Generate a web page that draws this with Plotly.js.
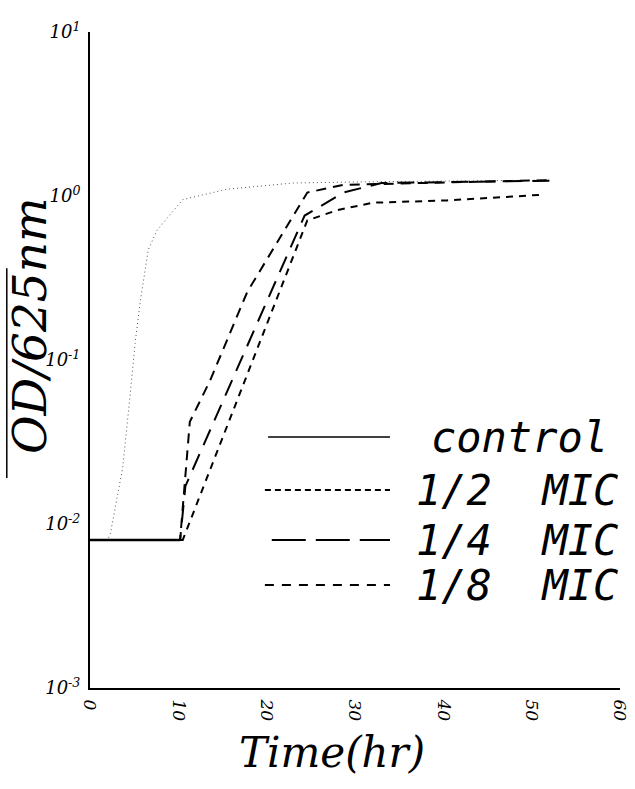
<!DOCTYPE html>
<html>
<head>
<meta charset="utf-8">
<script src="https://cdn.plot.ly/plotly-3.0.1.min.js"></script>
<style>html,body{margin:0;padding:0;background:#fff;}#chart{width:635px;height:789px;}</style>
</head>
<body>
<div id="chart"></div>
<script>
// ---- data ----
const controlTime = [0, 2.0, 2.3, 3.7, 4.5, 5.1, 5.7, 6.6, 7.6, 10.5, 15.5, 23, 31, 52];
const controlOD   = [0.008, 0.008, 0.0087, 0.022, 0.058, 0.126, 0.23, 0.47, 0.62, 0.95, 1.1, 1.2, 1.22, 1.25];

const halfTime = [0, 10.5, 24.6, 28, 32, 40.4, 51.5];
const halfOD   = [0.008, 0.008, 0.71, 0.82, 0.91, 0.94, 1.02];

const quarterTime = [0, 10.2, 10.8, 24.3, 28.7, 33, 52];
const quarterOD   = [0.008, 0.008, 0.017, 0.76, 1.05, 1.2, 1.24];

const eighthTime = [0, 10.2, 11.3, 13.6, 17.8, 24.6, 28.7, 52];
const eighthOD   = [0.008, 0.008, 0.042, 0.075, 0.26, 1.05, 1.17, 1.25];

const seriesNames = ["control", "1/2  MIC", "1/4  MIC", "1/8  MIC"];
const yTickVals = [0.001, 0.01, 0.1, 1, 10];
const yTickText = ["10<sup>-3</sup>", "10<sup>-2</sup>", "10<sup>-1</sup>", "10<sup>0</sup>", "10<sup>1</sup>"];
const xTickVals = [0, 10, 20, 30, 40, 50, 60];
const xTickText = ["0", "10", "20", "30", "40", "50", "60"];

const serif = "DejaVu Serif";
const legendFont = "DejaVu Sans Mono";

const traces = [
  // shared lag phase of all cultures (overlapping lines look solid)
  {x: [controlTime[0], eighthTime[1]], y: [controlOD[0], eighthOD[1]], mode: "lines",
   line: {color: "#000", width: 2.5}, hoverinfo: "skip"},
  {x: controlTime, y: controlOD, name: seriesNames[0], mode: "lines",
   line: {color: "#555", width: 1, dash: "1px,3px"}},
  {x: halfTime, y: halfOD, name: seriesNames[1], mode: "lines",
   line: {color: "#000", width: 2, dash: "7px,6px"}},
  {x: quarterTime, y: quarterOD, name: seriesNames[2], mode: "lines",
   line: {color: "#000", width: 2, dash: "17px,10px"}},
  {x: eighthTime, y: eighthOD, name: seriesNames[3], mode: "lines",
   line: {color: "#000", width: 2, dash: "10px,7px"}}
];

// custom legend (long line samples like the original)
const legendRows = [
  {y: 0.3826, x0: 0.336, dash: "solid", width: 1.5},
  {y: 0.3018, x0: 0.330, dash: "6px,4px", width: 2},
  {y: 0.2256, x0: 0.343, dash: "34px,10px", width: 2},
  {y: 0.157, x0: 0.330, dash: "9px,8px", width: 2}
];
const shapes = legendRows.map(r => ({
  type: "line", xref: "paper", yref: "paper", x0: r.x0, x1: 0.566, y0: r.y, y1: r.y,
  line: {color: "#000", width: r.width, dash: r.dash}
}));
// overline of the y title
shapes.push({type: "line", xref: "paper", yref: "paper", x0: -0.157, x1: -0.157, y0: 0.32, y1: 0.64,
  line: {color: "#000", width: 1.5}});

const annotations = legendRows.map((r, i) => ({
  xref: "paper", yref: "paper", x: i === 0 ? 0.64 : 0.612, y: r.y, xanchor: "left", yanchor: "middle",
  text: seriesNames[i], showarrow: false,
  font: {family: legendFont, size: 42, color: "#000", style: "italic"}
}));
annotations.push({xref: "paper", yref: "paper", x: -0.113, y: 0.552, textangle: -90,
  text: "OD/625nm", showarrow: false, xanchor: "center", yanchor: "middle",
  font: {family: serif, size: 47, color: "#000", style: "italic"}});
annotations.push({xref: "paper", yref: "paper", x: 0.457, y: -0.098,
  text: "Time(hr)", showarrow: false, xanchor: "center", yanchor: "middle",
  font: {family: serif, size: 42, color: "#000", style: "italic"}});

const layout = {
  width: 635, height: 789,
  margin: {l: 90, r: 15, t: 32, b: 101},
  paper_bgcolor: "#fff", plot_bgcolor: "#fff",
  showlegend: false,
  xaxis: {range: [0, 60], showgrid: false, zeroline: false, showline: true, linecolor: "#000", linewidth: 2,
    tickmode: "array", tickvals: xTickVals, ticktext: xTickText, tickangle: 90, ticks: "",
    ticklabelstandoff: 6,
    tickfont: {family: serif, size: 17, color: "#000", style: "italic"}},
  yaxis: {type: "log", range: [-3, 1], showgrid: false, zeroline: false, showline: true, linecolor: "#000", linewidth: 2,
    tickmode: "array", tickvals: yTickVals, ticktext: yTickText, ticks: "",
    ticklabelstandoff: 4,
    tickfont: {family: serif, size: 18, color: "#000", style: "italic"}},
  shapes: shapes,
  annotations: annotations
};

Plotly.newPlot("chart", traces, layout, {displayModeBar: false, staticPlot: true});
</script>
</body>
</html>
